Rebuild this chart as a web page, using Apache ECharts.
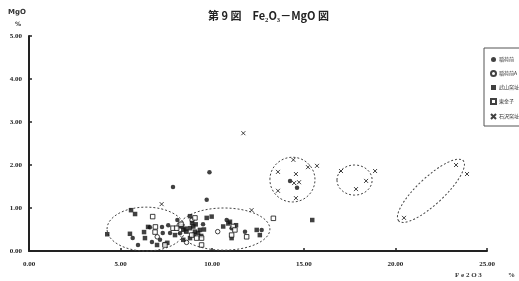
<!DOCTYPE html>
<html>
<head>
<meta charset="utf-8">
<script src="https://cdn.jsdelivr.net/npm/echarts@6/dist/echarts.min.js"></script>
<style>
  html, body { margin: 0; padding: 0; background: #fff; }
  #main { width: 519px; height: 281px; }
</style>
</head>
<body>
<div id="main"></div>
<script>
// 軸目盛
const xTicks = [0, 5, 10, 15, 20, 25]
const yTicks = [0, 1, 2, 3, 4, 5]

// 系列名
const seriesNames = ['稲荷前', '稲荷前A', '武山窯址', '東金子', '石沢窯址']

// [Fe2O3, MgO]
const inarimae = [
  [7.86, 1.49], [9.70, 1.19], [9.85, 1.83], [5.95, 0.14], [5.66, 0.30], [6.71, 0.21],
  [7.26, 0.56], [7.30, 0.42], [7.15, 0.26], [7.60, 0.60], [7.70, 0.42], [7.40, 0.16],
  [8.24, 0.41], [11.06, 0.53], [10.79, 0.72], [11.79, 0.45], [14.25, 1.63], [14.63, 1.47],
  [6.60, 0.55], [9.50, 0.62], [12.70, 0.49], [8.10, 0.72]
]
const inarimaeA = [
  [8.20, 0.60], [8.90, 0.72], [10.30, 0.45], [7.00, 0.33], [8.60, 0.20]
]
const takeyama = [
  [4.27, 0.39], [5.57, 0.95], [5.79, 0.86], [5.51, 0.40], [6.28, 0.44], [6.50, 0.56],
  [6.33, 0.30], [6.99, 0.14], [7.55, 0.19], [8.33, 0.57], [8.42, 0.49], [8.55, 0.52],
  [8.60, 0.45], [8.79, 0.53], [8.97, 0.57], [9.06, 0.45], [9.23, 0.42], [9.33, 0.49],
  [8.79, 0.30], [8.42, 0.26], [8.79, 0.81], [9.70, 0.77], [9.97, 0.80], [10.60, 0.57],
  [10.88, 0.64], [10.97, 0.68], [11.06, 0.30], [12.43, 0.49], [12.60, 0.37], [15.46, 0.72],
  [7.97, 0.37], [9.10, 0.62], [9.40, 0.35], [8.90, 0.65], [9.00, 0.38], [9.55, 0.50],
  [11.30, 0.60]
]
const higashikaneko = [
  [6.75, 0.80], [6.88, 0.44], [7.42, 0.14], [7.86, 0.53], [8.06, 0.53], [9.06, 0.77],
  [8.88, 0.37], [9.15, 0.30], [9.42, 0.30], [9.42, 0.14], [11.15, 0.57], [11.06, 0.37],
  [11.24, 0.49], [11.88, 0.33], [13.34, 0.76], [8.30, 0.62], [6.90, 0.56]
]
const ishizawa = [
  [7.24, 1.09], [12.15, 0.95], [14.43, 2.12], [15.23, 1.95], [15.72, 1.98], [13.59, 1.84],
  [14.57, 1.79], [14.47, 1.58], [14.74, 1.60], [13.59, 1.40], [14.57, 1.23], [17.03, 1.86],
  [17.85, 1.44], [18.40, 1.63], [18.89, 1.86], [23.31, 2.00], [23.91, 1.79], [20.47, 0.77],
  [11.70, 2.74]
]

// 点線の楕円 [中心x, 中心y, 長軸端x, 長軸端y, 短半径(MgO)]
const ellipses = [
  [6.39, 0.51, 8.52, 0.51, 0.51],
  [10.64, 0.51, 13.15, 0.51, 0.49],
  [14.38, 1.66, 15.61, 1.66, 0.52],
  [17.77, 1.65, 18.73, 1.65, 0.35],
  [21.94, 1.40, 23.70, 2.10, 0.31]
]

const crossPath = 'path://M0,0L10,10M10,0L0,10'
const labelFont = { color: '#222', fontSize: 7, fontFamily: 'Liberation Serif', fontWeight: 'bold' }

const chart = echarts.init(document.getElementById('main'), null, { renderer: 'canvas' })

function scatter (name, data, symbol, filled) {
  return {
    name: name,
    type: 'scatter',
    data: data,
    symbol: symbol,
    symbolSize: symbol === crossPath ? 4 : 4.5,
    itemStyle: filled
      ? { color: '#111' }
      : { color: symbol === crossPath ? 'transparent' : '#fff', borderColor: '#111', borderWidth: 1 }
  }
}

const option = {
  animation: false,
  backgroundColor: '#fff',
  title: {
    text: '第 9 図　Fe₂O₃－MgO 図',
    left: 203,
    top: 5,
    textStyle: { fontSize: 11, fontWeight: 'bold', color: '#222', fontFamily: 'Noto Sans CJK JP' }
  },
  grid: { left: 29, right: 32, top: 36, bottom: 30 },
  xAxis: {
    type: 'value',
    min: 0,
    max: 25,
    interval: 5,
    splitLine: { show: false },
    axisLine: { lineStyle: { color: '#222', width: 2 } },
    axisTick: { inside: true, length: 3, lineStyle: { color: '#222', width: 1.5 } },
    axisLabel: Object.assign({ formatter: v => v.toFixed(2), margin: 10 }, labelFont)
  },
  yAxis: {
    type: 'value',
    min: 0,
    max: 5,
    interval: 1,
    splitLine: { show: false },
    axisLine: { show: true, lineStyle: { color: '#222', width: 2 } },
    axisTick: { show: true, inside: true, length: 3, lineStyle: { color: '#222', width: 1.5 } },
    axisLabel: Object.assign({ formatter: v => v.toFixed(2), margin: 7 }, labelFont)
  },
  legend: {
    orient: 'vertical',
    left: 485,
    top: 52,
    itemGap: 8,
    itemWidth: 5,
    itemHeight: 5,
    data: seriesNames,
    textStyle: { fontSize: 5, color: '#333', fontFamily: 'Noto Sans CJK JP', padding: [0, 0, 0, -2] }
  },
  graphic: [
    { type: 'text', left: 8, top: 9, style: { text: 'MgO', fontSize: 7, fontWeight: 'bold', fill: '#333', fontFamily: 'DejaVu Sans' } },
    { type: 'text', left: 15, top: 21, style: { text: '%', fontSize: 6, fontWeight: 'bold', fill: '#333', fontFamily: 'DejaVu Sans' } },
    { type: 'text', left: 455, top: 272, style: { text: 'F e 2 O 3', fontSize: 7, fill: '#333', fontFamily: 'Liberation Serif', fontWeight: 'bold' } },
    { type: 'text', left: 508, top: 272, style: { text: '%', fontSize: 7, fill: '#333', fontFamily: 'Liberation Serif', fontWeight: 'bold' } },
    { type: 'rect', shape: { x: 484, y: 48, width: 60, height: 78 }, style: { fill: 'none', stroke: '#555', lineWidth: 1 } }
  ],
  series: [
    scatter(seriesNames[0], inarimae, 'circle', true),
    scatter(seriesNames[1], inarimaeA, 'circle', false),
    scatter(seriesNames[2], takeyama, 'rect', true),
    scatter(seriesNames[3], higashikaneko, 'rect', false),
    scatter(seriesNames[4], ishizawa, crossPath, false),
    {
      type: 'custom',
      data: ellipses,
      silent: true,
      z: 1,
      renderItem: function (params, api) {
        const c = api.coord([api.value(0), api.value(1)])
        const e = api.coord([api.value(2), api.value(3)])
        const rx = Math.hypot(e[0] - c[0], e[1] - c[1])
        const ang = Math.atan2(-(e[1] - c[1]), e[0] - c[0])
        const ry = api.size([0, api.value(4)])[1]
        return {
          type: 'ellipse',
          x: c[0],
          y: c[1],
          rotation: ang,
          shape: { cx: 0, cy: 0, rx: rx, ry: ry },
          style: { fill: 'none', stroke: '#444', lineWidth: 1, lineDash: [2, 2] }
        }
      }
    }
  ]
}

chart.setOption(option)
</script>
</body>
</html>
